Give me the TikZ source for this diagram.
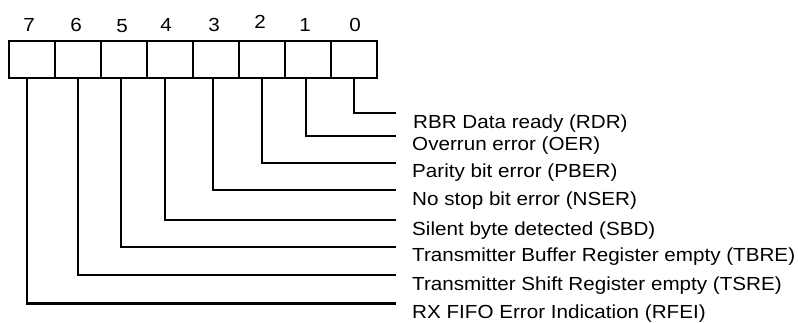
\documentclass[tikz,border=0pt]{standalone}
\usepackage{fontspec}
\setmainfont[FakeStretch=1.09]{Liberation Sans}
\usepackage{tikz}
\usetikzlibrary{positioning}
\tikzstyle{bitcell} = [rectangle, draw=black, line width=2.3bp, minimum
width=46bp, minimum height=37bp, inner sep=0pt]
\tikzstyle{bitnum} = [inner sep=0pt, font=\fontsize{19}{22}\selectfont]
\tikzstyle{flagtext} = [anchor=base west, inner sep=0pt,
font=\fontsize{19}{22}\selectfont]
\tikzstyle{lead} = [line width=2.3bp]

\begin{document}
\begin{tikzpicture}[x=1bp, y=-1bp]
  \useasboundingbox (0,0) rectangle (798,322);
  % register cells, bit 7 on the left
  \node [bitcell] (b7) at (32,59.2) {};
  \node [bitcell] (b6) at (78,59.2) {};
  \node [bitcell] (b5) at (124,59.2) {};
  \node [bitcell] (b4) at (170,59.2) {};
  \node [bitcell] (b3) at (216,59.2) {};
  \node [bitcell] (b2) at (262,59.2) {};
  \node [bitcell] (b1) at (308,59.2) {};
  \node [bitcell] (b0) at (354,59.2) {};
  % bit numbers
  \node [bitnum, above=8bp of b7, xshift=-3bp] (n7) {7};
  \node [bitnum, above=8bp of b6, xshift=-2bp] (n6) {6};
  \node [bitnum, above=7bp of b5, xshift=-2bp] (n5) {5};
  \node [bitnum, above=8bp of b4, xshift=-4bp] (n4) {4};
  \node [bitnum, above=8bp of b3, xshift=-2bp] (n3) {3};
  \node [bitnum, above=11bp of b2, xshift=-2bp] (n2) {2};
  \node [bitnum, above=8bp of b1, xshift=-3bp] (n1) {1};
  \node [bitnum, above=8bp of b0, xshift=1bp] (n0) {0};
  % flag names
  \node [flagtext] (t0) at (413,128) {RBR Data ready (RDR)};
  \node [flagtext] (t1) at (412,150) {Overrun error (OER)};
  \node [flagtext] (t2) at (412,177.7) {Parity bit error (PBER)};
  \node [flagtext] (t3) at (412,205) {No stop bit error (NSER)};
  \node [flagtext] (t4) at (412,235) {Silent byte detected (SBD)};
  \node [flagtext] (t5) at (412,261.7) {Transmitter Buffer Register empty (TBRE)};
  \node [flagtext] (t6) at (412,290) {Transmitter Shift Register empty (TSRE)};
  \node [flagtext] (t7) at (412,318) {RX FIFO Error Indication (RFEI)};
  % line ends
  \coordinate (e0) at (396,113.3);
  \coordinate (e1) at (396,135.7);
  \coordinate (e2) at (396,163.3);
  \coordinate (e3) at (396,190);
  \coordinate (e4) at (396,220);
  \coordinate (e5) at (396,246.7);
  \coordinate (e6) at (396,275);
  \coordinate (e7) at (396,303.5);
  \draw [lead] (b0.south) |- (e0);
  \draw [lead] ([xshift=-2bp]b1.south) |- (e1);
  \draw [lead] (b2.south) |- (e2);
  \draw [lead] ([xshift=-3bp]b3.south) |- (e3);
  \draw [lead] ([xshift=-5bp]b4.south) |- (e4);
  \draw [lead] ([xshift=-3bp]b5.south) |- (e5);
  \draw [lead] (b6.south) |- (e6);
  \draw [lead] ([xshift=-5bp]b7.south) |- (e7);
\end{tikzpicture}
\end{document}
